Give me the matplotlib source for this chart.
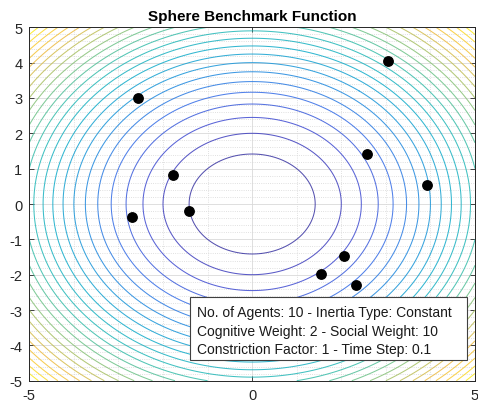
import numpy as np
import matplotlib
matplotlib.use("Agg")
import matplotlib.pyplot as plt
from matplotlib.colors import LinearSegmentedColormap
from matplotlib.patches import Rectangle

# Data
agent_x = [-2.57, 3.05, -1.77, 2.58, 3.92, -2.70, -1.42, 2.06, 1.54, 2.34]
agent_y = [2.99, 4.04, 0.83, 1.42, 0.55, -0.38, -0.19, -1.47, -1.98, -2.28]
levels = list(range(2, 50, 2))
x_ticks = [-5, 0, 5]
y_ticks = [-5, -4, -3, -2, -1, 0, 1, 2, 3, 4, 5]
title = "Sphere Benchmark Function"
info_lines = ["No. of Agents: 10 - Inertia Type: Constant",
              "Cognitive Weight: 2 - Social Weight: 10",
              "Constriction Factor: 1 - Time Step: 0.1"]

parula = LinearSegmentedColormap.from_list("parula", [
    (0.00, (0.2081, 0.1663, 0.5292)),
    (0.10, (0.2500, 0.2600, 0.8000)),
    (0.20, (0.2000, 0.4200, 0.9000)),
    (0.30, (0.0900, 0.5600, 0.8600)),
    (0.40, (0.0600, 0.6700, 0.7900)),
    (0.50, (0.1500, 0.7300, 0.7000)),
    (0.60, (0.4200, 0.7600, 0.5300)),
    (0.70, (0.7000, 0.7500, 0.3600)),
    (0.80, (0.9300, 0.7300, 0.2500)),
    (0.90, (0.9900, 0.8100, 0.1700)),
    (1.00, (0.9763, 0.9831, 0.0538)),
])

plt.rcParams['font.family'] = ['Liberation Sans', 'DejaVu Sans']
plt.rcParams['axes.unicode_minus'] = False

fig = plt.figure(figsize=(4.78, 4.06), dpi=100)
ax = fig.add_axes([29.3/478, 1-381.7/406, (475-29.3)/478, (381.7-28.3)/406])

g = np.linspace(-5, 5, 401)
X, Y = np.meshgrid(g, g)
Z = X**2 + Y**2
ax.contour(X, Y, Z, levels=levels, cmap=parula, vmin=0, vmax=50, linewidths=0.75,
           alpha=0.85, zorder=2)

ax.scatter(agent_x, agent_y, s=46, c='black', zorder=4)

ax.set_xlim(-5, 5)
ax.set_ylim(-5, 5)
ax.set_xticks(x_ticks)
ax.set_yticks(y_ticks)
ax.set_xticks(np.arange(-5, 5.01, 1), minor=True)
ax.set_yticks(np.arange(-5, 5.01, 0.2), minor=True)
ax.tick_params(which='minor', length=0)
ax.tick_params(which='major', direction='in', length=3.5, width=0.6, colors='#262626',
               labelsize=10.5, pad=5, top=True, right=True)
ax.grid(True, which='major', color='#d9d9d9', linewidth=0.6, linestyle='-', zorder=0)
ax.grid(True, which='minor', color='#d6d6d6', linewidth=0.6, linestyle=':', zorder=0)
ax.set_axisbelow(True)
for s in ax.spines.values():
    s.set_color('#262626')
    s.set_linewidth(0.7)

ax.set_title(title, fontsize=11, fontweight='bold', color='black', pad=5)

ax.add_patch(Rectangle((0.3606, 0.0586), 0.982 - 0.3606, 0.2368 - 0.0586,
                       transform=ax.transAxes, facecolor='white', edgecolor='#404040',
                       linewidth=0.8, zorder=5))
ax.text(0.376, 0.142, "\n".join(info_lines), transform=ax.transAxes, fontsize=10,
        va='center', ha='left', linespacing=1.4, zorder=6, color='#1a1a1a')

fig.savefig("out.png", dpi=100)
